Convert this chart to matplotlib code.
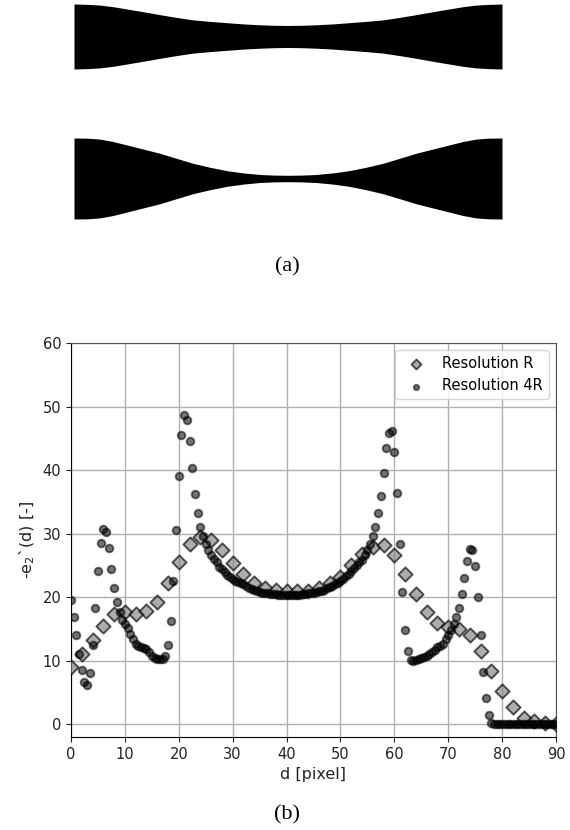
"""
Two-panel figure: (a) the two necked strip shapes, (b) -e2'(d) profile at two resolutions.
"""

import matplotlib
matplotlib.use("Agg")
import matplotlib.pyplot as plt

# panel (a): half thickness of each strip against distance from its centre (reference pixels)
STRIP_OFFSET = [0, 14, 28, 45, 61, 78, 95, 111, 128, 145, 161, 175, 188, 200, 214]
STRIP_TOP_HALF = [11.0, 11.2, 11.7, 12.6, 13.8, 15.1, 16.6, 19.0, 21.8, 24.8, 27.5, 29.8, 31.4, 32.1, 32.5]
STRIP_BOTTOM_HALF = [3.2, 3.4, 4.0, 5.6, 7.8, 11.2, 15.2, 20.0, 25.2, 29.5, 33.5, 37.0, 39.4, 40.3, 40.5]

# panel (b)
d_r = [0, 2, 4, 6, 8, 10, 12, 14, 16, 18, 20, 22, 24, 26, 28, 30, 32, 34, 36, 38, 40, 42, 44,
       46, 48, 50, 52, 54, 56, 58, 60, 62, 64, 66, 68, 70, 72, 74, 76, 78, 80, 82, 84, 86, 88, 90]
e_r = [9.0, 11.0, 13.2, 15.5, 17.3, 17.6, 17.4, 17.8, 19.2, 22.2, 25.5, 28.3, 29.5, 29.0, 27.4,
       25.4, 23.7, 22.3, 21.4, 21.1, 21.0, 21.0, 21.0, 21.4, 22.2, 23.2, 25.0, 26.8, 27.9, 28.2,
       26.6, 23.6, 20.5, 17.6, 15.9, 15.3, 15.0, 14.0, 11.5, 8.4, 5.2, 2.7, 1.0, 0.5, 0.2, 0.0]

d_4r = [0, 0.5, 1, 1.5, 2, 2.5, 3, 3.5, 4, 4.5, 5, 5.5, 6, 6.5, 7, 7.5, 8, 8.5, 9, 9.5,
        10, 10.5, 11, 11.5, 12, 12.5, 13, 13.5, 14, 14.5, 15, 15.5, 16, 16.5, 17, 17.5, 18, 18.5, 19, 19.5,
        20, 20.5, 21, 21.5, 22, 22.5, 23, 23.5, 24, 24.5, 25, 25.5, 26, 26.5, 27, 27.5, 28, 28.5, 29, 29.5,
        30, 30.5, 31, 31.5, 32, 32.5, 33, 33.5, 34, 34.5, 35, 35.5, 36, 36.5, 37, 37.5, 38, 38.5, 39, 39.5,
        40, 40.5, 41, 41.5, 42, 42.5, 43, 43.5, 44, 44.5, 45, 45.5, 46, 46.5, 47, 47.5, 48, 48.5, 49, 49.5,
        50, 50.5, 51, 51.5, 52, 52.5, 53, 53.5, 54, 54.5, 55, 55.5, 56, 56.5, 57, 57.5, 58, 58.5, 59, 59.5,
        60, 60.5, 61, 61.5, 62, 62.5, 63, 63.5, 64, 64.5, 65, 65.5, 66, 66.5, 67, 67.5, 68, 68.5, 69, 69.5,
        70, 70.5, 71, 71.5, 72, 72.5, 73, 73.5, 74, 74.5, 75, 75.5, 76, 76.5, 77, 77.5, 78, 78.5, 79, 79.5,
        80, 80.5, 81, 81.5, 82, 82.5, 83, 83.5, 84, 84.5, 85, 85.5, 86, 86.5, 87, 87.5, 88, 88.5, 89, 89.5, 90]
e_4r = [19.6, 16.9, 14.1, 11.1, 8.5, 6.6, 6.2, 8.1, 12.5, 18.3, 24.2, 28.6, 30.8, 30.3, 27.7, 24.5, 21.5, 19.2, 17.6, 16.4,
        15.8, 15.1, 14.2, 13.4, 12.7, 12.3, 12.2, 12.0, 11.8, 11.3, 10.7, 10.4, 10.2, 10.2, 10.3, 10.8, 12.5, 16.2, 22.5, 30.6,
        39.1, 45.5, 48.6, 47.9, 44.6, 40.3, 36.2, 33.2, 31.1, 29.6, 28.4, 27.5, 26.7, 26.0, 25.5, 24.8, 24.4, 23.9, 23.5, 23.1,
        22.8, 22.6, 22.4, 22.2, 22.0, 21.8, 21.5, 21.3, 21.1, 20.9, 20.8, 20.7, 20.6, 20.6, 20.5, 20.5, 20.5, 20.4, 20.4, 20.3,
        20.3, 20.3, 20.3, 20.3, 20.4, 20.4, 20.5, 20.5, 20.6, 20.6, 20.7, 20.8, 20.9, 21.0, 21.2, 21.4, 21.6, 21.8, 22.0, 22.3,
        22.6, 22.9, 23.3, 23.7, 24.1, 24.6, 25.1, 25.6, 25.9, 26.6, 27.5, 28.3, 29.6, 31.1, 33.2, 35.9, 39.5, 43.4, 45.9, 46.1,
        42.8, 36.4, 28.4, 20.8, 14.9, 11.5, 10.1, 9.9, 10.1, 10.3, 10.5, 10.6, 10.8, 11.0, 11.4, 11.7, 12.1, 12.3, 12.7, 13.4,
        14.0, 14.9, 15.8, 16.9, 18.3, 20.5, 23.0, 25.7, 27.6, 27.4, 24.9, 20.0, 14.0, 8.3, 4.1, 1.5, 0.2, 0.0, 0.0, 0.0,
        0.0, 0.0, 0.0, 0.0, 0.0, 0.0, 0.0, 0.0, 0.0, 0.0, 0.0, 0.0, 0.0, 0.0, 0.0, 0.0, 0.0, 0.0, 0.0, 0.0, 0.0]

W, H = 570, 830

fig = plt.figure(figsize=(W / 100, H / 100), dpi=100)

# overlay in reference pixels for the strips and the captions
bg = fig.add_axes([0, 0, 1, 1])
bg.set_xlim(0, W)
bg.set_ylim(H, 0)
bg.axis("off")


def draw_strip(centre_x, centre_y, half):
    xs = [centre_x - o for o in STRIP_OFFSET[::-1]] + [centre_x + o for o in STRIP_OFFSET[1:]]
    hs = half[::-1] + half[1:]
    bg.fill_between(xs, [centre_y - h for h in hs], [centre_y + h for h in hs],
                    color="black", linewidth=0)


draw_strip(288, 36.5, STRIP_TOP_HALF)
draw_strip(288, 178.5, STRIP_BOTTOM_HALF)

bg.text(287, 267, "(a)", family="Liberation Serif", fontsize=16, ha="center", va="center")
bg.text(287, 815, "(b)", family="Liberation Serif", fontsize=16, ha="center", va="center")

# chart
ax = fig.add_axes([71 / W, 1 - 737 / H, 485 / W, 394 / H])
ax.scatter(d_r, e_r, marker="D", s=52, color="gray", alpha=0.65, edgecolors="black",
           linewidths=1.4, label="Resolution R", zorder=3)
ax.scatter(d_4r, e_4r, marker="o", s=30, color="black", alpha=0.55, edgecolors="black",
           linewidths=1.4, label="Resolution 4R", zorder=3)
ax.set_xlim(0, 90)
ax.set_ylim(-2, 60)
ax.set_xticks([0, 10, 20, 30, 40, 50, 60, 70, 80, 90])
ax.set_yticks([0, 10, 20, 30, 40, 50, 60])
ax.tick_params(labelsize=10.5, colors="#222222")
ax.set_xlabel("d [pixel]", fontsize=11.5, color="#222222")
ax.set_ylabel("-e$_2$`(d) [-]", fontsize=11.5, color="#222222")
ax.grid(True, color="#b0b0b0", linewidth=1.0)
ax.set_axisbelow(True)
ax.legend(loc="upper right", fontsize=10.5, markerscale=0.7)

for side in ["top", "right"]:
    ax.spines[side].set_color("#555555")

fig.savefig("out.png", dpi=100)
